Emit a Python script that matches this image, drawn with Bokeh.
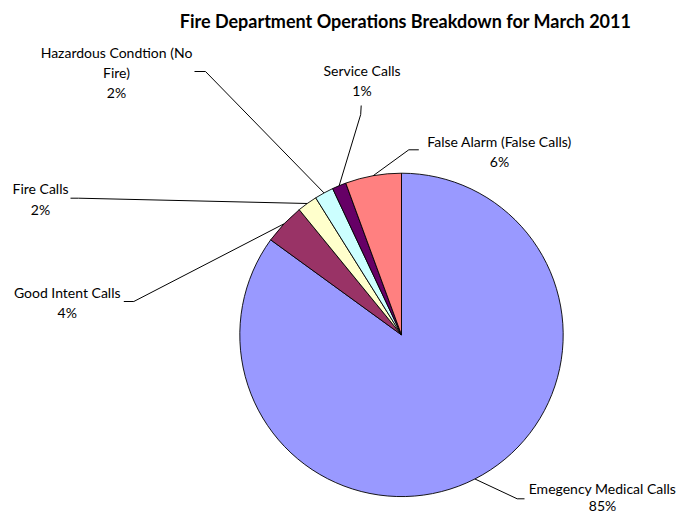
import math
from bokeh.plotting import figure
from bokeh.models import Range1d, ColumnDataSource
from bokeh.core.properties import value
from bokeh.embed import file_html
from bokeh.resources import INLINE

# ---- data ----
categories = ["Emegency Medical Calls", "Good Intent Calls", "Fire Calls",
              "Hazardous Condtion (No Fire)", "Service Calls", "False Alarm (False Calls)"]
values = [85.0, 4.1, 2.0, 1.9, 1.4, 5.6]
colors = ["#9999FF", "#993366", "#FFFFCC", "#CCFFFF", "#660066", "#FF8080"]
title_text = "Fire Department Operations Breakdown for March 2011"

# ---- layout (image-pixel coordinates, y measured from top) ----
W, H = 680, 514
def Y(y_img):
    return H - y_img

label_lines = [["Emegency Medical Calls"], ["Good Intent Calls"], ["Fire Calls"],
               ["Hazardous Condtion (No", "Fire)"], ["Service Calls"],
               ["False Alarm (False Calls)"]]
label_pos = [(602, 487.5), (66.7, 291.7), (40, 188.3), (116, 51.7), (361.5, 70), (499, 141)]
line_gaps = [17.0, 20.3, 20.3, 20.3, 20.3, 20.3]
leader_pts = [[(524, 498.3), (516.7, 498.3)],
              [(123.3, 301), (133.3, 301)],
              [(70, 197.7), (78, 197.7)],
              [(194, 71), (205, 71)],
              [(360.7, 105), (360.2, 114)],
              [(418.3, 149.3), (408.3, 149.3)]]
cx, cy, R = 401, Y(334.4), 161.7
FONT = "Lato"

p = figure(width=W, height=H, output_backend="svg", toolbar_location=None,
           x_range=Range1d(0, W), y_range=Range1d(0, H),
           min_border=0, outline_line_color=None)
p.axis.visible = False
p.grid.visible = False
p.background_fill_color = "white"
p.border_fill_color = "white"

total = sum(values)
starts, ends, mids = [], [], []
cum = 0.0
for v in values:
    f = v / total
    a0 = math.pi / 2 - 2 * math.pi * cum
    a1 = math.pi / 2 - 2 * math.pi * (cum + f)
    starts.append(a1)
    ends.append(a0)
    mids.append(math.pi / 2 - 2 * math.pi * (cum + f / 2))
    cum += f

src = ColumnDataSource(dict(start=starts, end=ends, color=colors, cat=categories))
p.wedge(x=cx, y=cy, radius=R, start_angle="start", end_angle="end",
        direction="anticlock", fill_color="color", line_color="black",
        line_width=0.9, source=src)

# leader lines
for i, pts in enumerate(leader_pts):
    rx = cx + R * math.cos(mids[i])
    ry = cy + R * math.sin(mids[i])
    xs = [pt[0] for pt in pts] + [rx]
    ys = [Y(pt[1]) for pt in pts] + [ry]
    p.line(xs, ys, line_color="black", line_width=1)

# labels
tx, ty, tt = [], [], []
for i, lines in enumerate(label_lines):
    x0, y0 = label_pos[i]
    allines = lines + [f"{round(values[i] / total * 100)}%"]
    for k, s in enumerate(allines):
        tx.append(x0)
        ty.append(Y(y0 + k * line_gaps[i]))
        tt.append(s)
p.text(x=tx, y=ty, text=tt, text_font=value(FONT), text_font_size="14px",
       text_align="center", text_baseline="middle", text_color="black")

p.text(x=[405], y=[Y(20)], text=[title_text], text_font=value(FONT),
       text_font_size="18px", text_font_style="bold", text_align="center",
       text_baseline="middle", text_color="black")

open("out.html", "w").write(file_html(p, INLINE))
